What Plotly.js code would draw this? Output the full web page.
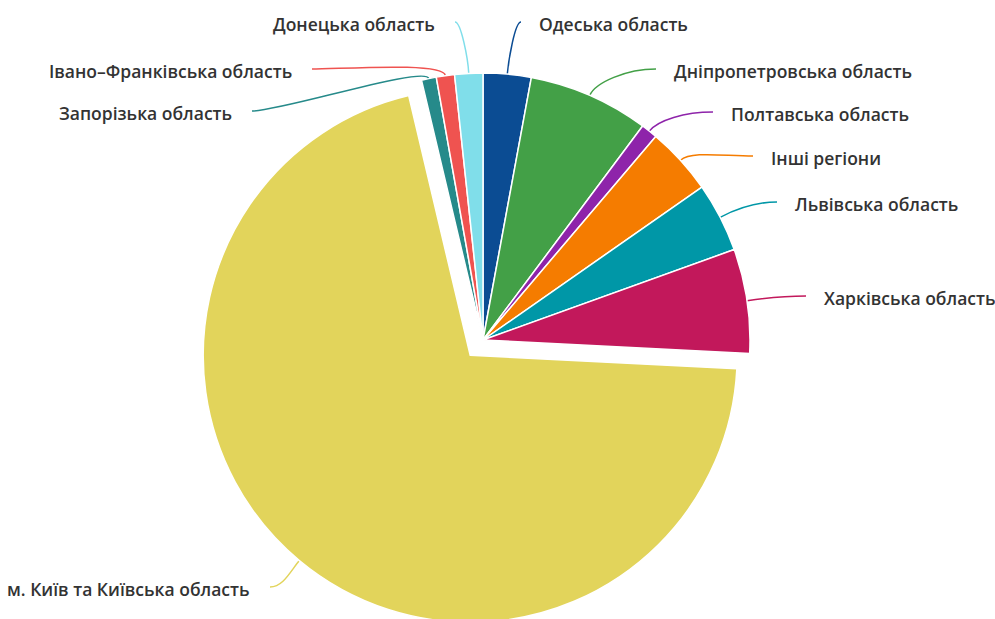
<!DOCTYPE html>
<html><head><meta charset="utf-8">
<script src="https://cdn.plot.ly/plotly-3.0.1.min.js"></script>
<style>html,body{margin:0;padding:0;background:#fff;overflow:hidden}#wrap{width:995px;height:619px;overflow:hidden}#chart{width:995px;height:700px}</style>
</head><body><div id="wrap"><div id="chart"></div></div>
<script>
// ---- data ----
const regions = ['Одеська область','Дніпропетровська область','Полтавська область','Інші регіони','Львівська область','Харківська область','м. Київ та Київська область','Запорізька область','Івано–Франківська область','Донецька область'];
const shares = [2.9, 7.3, 1.0, 4.1, 4.2, 6.3, 70.5, 0.9, 1.1, 1.7];

// ---- styles ----
const colors = ['#0b4c93','#43a047','#8e24aa','#f57c00','#0097a7','#c2185b','#e2d45b','#268a8a','#ef5350','#80deea'];
const pulledIndex = 6;

// ---- label layout (pixels) ----
const labelX = [537, 672, 729, 769, 793, 822, 252, 234, 294, 437];
const labelY = [24, 71, 114, 158, 204, 298, 589, 113, 71, 24];
const labelSide = ['left','left','left','left','left','left','right','right','right','right'];

const W = 995, H = 700, CX = 483, CY = 340, R = 267, PULLPX = 20;
const pull = PULLPX / R;
const S = R * (2 + 2 * pull);
const px = x => x / W, py = y => 1 - y / H;

const total = shares.reduce((a, b) => a + b, 0);
let acc = 0;
const shapes = [], annotations = [];
shares.forEach((v, i) => {
  const mid = (acc + v / 2) / total * 2 * Math.PI;
  acc += v;
  const dx = Math.sin(mid), dy = -Math.cos(mid);
  const off = i === pulledIndex ? PULLPX : 0;
  const p0x = CX + (R + off) * dx, p0y = CY + (R + off) * dy;
  const left = labelSide[i] === 'left';
  const ex = left ? labelX[i] - 16 : labelX[i] + 18;
  const ey = labelY[i] - 2;
  const dist = Math.hypot(ex - p0x, ey - p0y);
  const k = Math.min(14, dist * 0.4);
  const c1x = p0x + k * dx, c1y = p0y + k * dy;
  const h = Math.min(30, Math.abs(ex - p0x) * 0.45);
  const c2x = left ? ex - h : ex + h, c2y = ey;
  shapes.push({type: 'path', xref: 'paper', yref: 'paper',
    path: `M ${px(p0x)},${py(p0y)} C ${px(c1x)},${py(c1y)} ${px(c2x)},${py(c2y)} ${px(ex)},${py(ey)}`,
    line: {color: colors[i], width: 1.5}, layer: 'below'});
  annotations.push({xref: 'paper', yref: 'paper', x: px(labelX[i]), y: py(labelY[i]),
    xanchor: labelSide[i], yanchor: 'middle', showarrow: false, text: regions[i],
    font: {family: 'Open Sans, sans-serif', size: 17.5, color: '#333333', weight: 600}});
});

const trace = {
  type: 'pie', labels: regions, values: shares, sort: false, direction: 'clockwise', rotation: 0,
  marker: {colors: colors, line: {color: '#ffffff', width: 1.5}},
  pull: shares.map((_, i) => i === pulledIndex ? pull : 0),
  textinfo: 'none', hoverinfo: 'label+percent',
  domain: {x: [(CX - S / 2) / W, (CX + S / 2) / W], y: [1 - (CY + S / 2) / H, 1 - (CY - S / 2) / H]}
};
Plotly.newPlot('chart', [trace], {
  width: W, height: H, margin: {l: 0, r: 0, t: 0, b: 0}, showlegend: false,
  paper_bgcolor: '#ffffff', shapes: shapes, annotations: annotations
}, {displayModeBar: false, staticPlot: true});
</script></body></html>
